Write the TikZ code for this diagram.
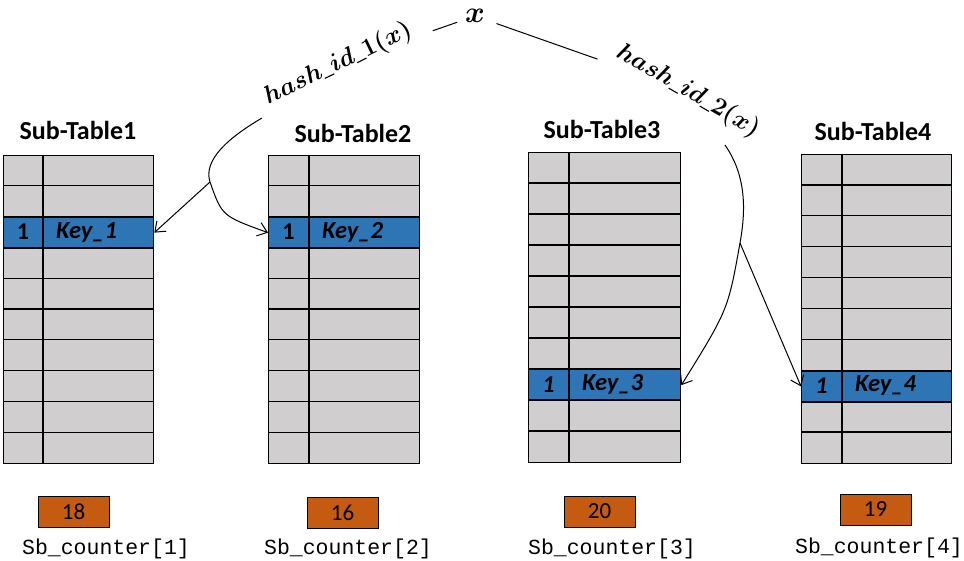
\RequirePackage{fix-cm}
\documentclass[tikz,border=0pt]{standalone}
\usepackage{amsmath,amssymb}
\usepackage{fontspec}
\setmainfont{Carlito}
\newfontfamily\monof{Liberation Mono}
\usetikzlibrary{arrows.meta}
\definecolor{cellgray}{HTML}{D0CECE}
\definecolor{keyblue}{HTML}{2E75B6}
\definecolor{ctrorange}{HTML}{C55A11}
\newcommand\subtable[9]{%
  \pgfmathsetmacro\stW{#4-#2}%
  \pgfmathsetmacro\stH{#6-#5}%
  \pgfmathsetmacro\stR{(#6-#5)/10}%
  \pgfmathsetmacro\stK{#5+(#7-1)*\stR}%
  \node[tbl, minimum width=\stW, minimum height=\stH] (#1) at (#2,#5) {};
  \node[keyrow, minimum width=\stW, minimum height=\stR] (#1k) at (#2,\stK) {};
  \foreach \i in {1,...,9} {\draw[grid] (#2,{#5+\i*\stR}) -- (#4,{#5+\i*\stR});}
  \draw[grid] (#3,#5) -- (#3,#6);
  \node[idx] (#1i) at ({(#2+#3)/2},{\stK+\stR/2}) {#8};
  \node[keytxt] (#1t) at ({#3+13},{\stK+\stR/2}) {#9};
}
\newcommand\us{\rule[-1.5pt]{0.42em}{1.1pt}}
\begin{document}
\begin{tikzpicture}[x=1pt,y=-1pt,
  tbl/.style={draw=black, line width=1.3pt, fill=cellgray, rectangle, inner sep=0pt, anchor=north west},
  keyrow/.style={draw=black, line width=1.3pt, fill=keyblue, rectangle, inner sep=0pt, anchor=north west},
  grid/.style={line width=1.3pt},
  title/.style={font=\fontsize{26}{30}\selectfont\bfseries},
  keytxt/.style={font=\fontsize{24.5}{28}\selectfont\bfseries\itshape, anchor=west, inner sep=0pt},
  idx/.style={font=\fontsize{24}{28}\selectfont\bfseries, inner sep=0pt},
  ctr/.style={draw=black, line width=0.9pt, fill=ctrorange, minimum width=71pt, minimum height=31pt, inner sep=0pt, font=\fontsize{23}{27}\selectfont},
  ctrlbl/.style={font=\monof\fontsize{21.5}{26}\selectfont, inner sep=0pt},
  hashlbl/.style={font=\fontsize{25}{29}\selectfont, inner sep=2pt},
  conn/.style={line width=1pt},
  arr/.style={conn, -{Straight Barb[length=9pt,width=14pt]}}
]
\useasboundingbox (0,0) rectangle (964,561);

% tables
\subtable{t1}{3}{43}{153}{155}{463}{3}{1}{Key\_1}
\subtable{t2}{268}{309}{419}{155}{463}{3}{1}{Key\_2}
\subtable{t3}{528}{569}{680}{152}{462}{8}{\textit{1}}{Key\_3}
\subtable{t4}{801}{842}{951}{154}{463}{8}{\textit{1}}{Key\_4}

% titles
\node[title] (h1) at (78,130) {Sub-Table1};
\node[title] (h2) at (353,133) {Sub-Table2};
\node[title] (h3) at (602,129) {Sub-Table3};
\node[title] (h4) at (873,131) {Sub-Table4};

% key and hash functions
\node[font=\fontsize{30}{34}\selectfont, inner sep=1pt] (xv) at (475,16) {$\boldsymbol{x}$};
\node[hashlbl, rotate=26] (hl1) at (338,64) {$\boldsymbol{hash}\us\boldsymbol{id}\us\boldsymbol{1(x)}$};
\node[hashlbl, rotate=-30] (hl2) at (688,91) {$\boldsymbol{hash}\us\boldsymbol{id}\us\boldsymbol{2(x)}$};
\draw[conn, shorten <=7pt, shorten >=17pt] (xv) -- (hl1);
\draw[conn, shorten <=11pt, shorten >=16pt] (xv) -- (hl2);

% arrows of hash_id_1
\coordinate (s1) at (262,118);
\coordinate (p1) at (210,182);
\draw[conn] (s1) .. controls (228,138) and (203,160) .. (p1);
\draw[arr] (p1) -- (t1k.east);
\draw[arr] (p1) .. controls (222,216) .. (t2k.west);

% arrows of hash_id_2
\coordinate (s2) at (725,145);
\coordinate (p2) at (740,243);
\draw[conn] (s2) .. controls (748,178) and (745,215) .. (p2);
\draw[arr] (p2) .. controls (728,310) .. (t3k.east);
\draw[arr] (p2) -- (t4k.west);

% counters
\node[ctr] (c1) at (73.5,511.5) {18};
\node[ctr] (c2) at (342.5,513) {16};
\node[ctr] (c3) at (599.5,511.5) {20};
\node[ctr] (c4) at (875.5,509.5) {19};
\node[ctrlbl] (l1) at (106,549) {Sb\_counter[1]};
\node[ctrlbl] (l2) at (348,549) {Sb\_counter[2]};
\node[ctrlbl] (l3) at (612,549) {Sb\_counter[3]};
\node[ctrlbl] (l4) at (879,548) {Sb\_counter[4]};
\end{tikzpicture}
\end{document}
